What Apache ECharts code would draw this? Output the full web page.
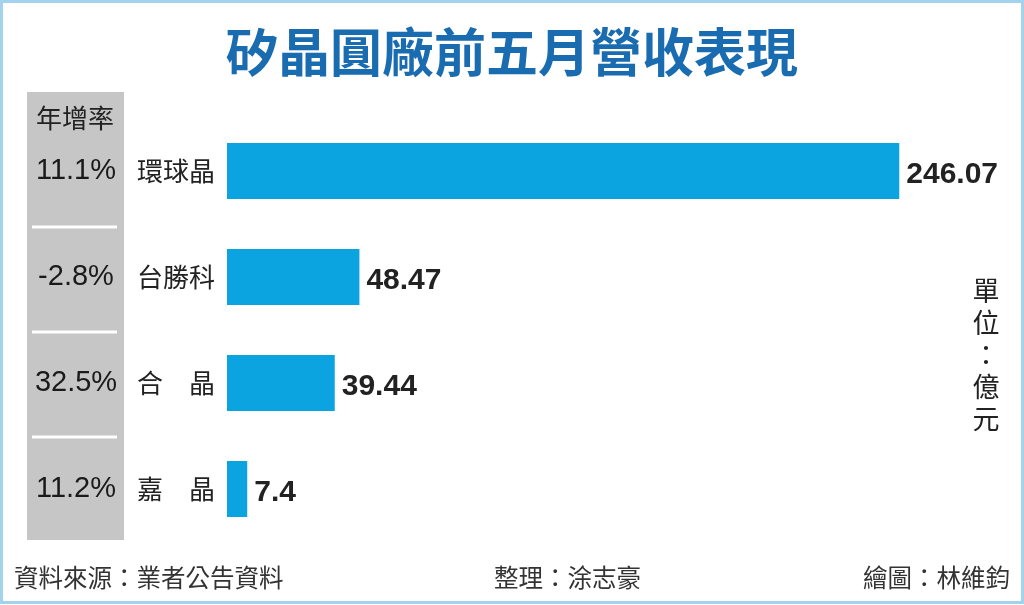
<!DOCTYPE html>
<html>
<head>
<meta charset="utf-8">
<script src="https://cdn.jsdelivr.net/npm/echarts@6/dist/echarts.min.js"></script>
<style>html,body{margin:0;padding:0;background:#fff}#c{width:1024px;height:605px}</style>
</head>
<body>
<div id="c"></div>
<script>
var titleText = '矽晶圓廠前五月營收表現';
var companies = ['環球晶', '台勝科', '合　晶', '嘉　晶'];
var revenue = [246.07, 48.47, 39.44, 7.4];
var growth = ['11.1%', '-2.8%', '32.5%', '11.2%'];
var growthHeader = '年增率';
var unitText = '單位：億元';
var sourceText = '資料來源：業者公告資料';
var editorText = '整理：涂志豪';
var artistText = '繪圖：林維鈞';

var FONT = '"Noto Sans CJK TC", "Noto Sans", sans-serif';
var NUMFONT = '"Liberation Sans", Arial, sans-serif';
var chart = echarts.init(document.getElementById('c'));

var sepLines = [227, 332, 437].map(function (y) {
  return { type: 'line', shape: { x1: 32, y1: y, x2: 117, y2: y }, style: { stroke: '#ffffff', lineWidth: 3 }, z: 1 };
});

chart.setOption({
  backgroundColor: '#ffffff',
  animation: false,
  title: {
    text: titleText, left: 'center', top: 21,
    textStyle: { fontFamily: FONT, fontSize: 52, fontWeight: 'bold', color: '#1a6cb0' }
  },
  grid: { left: 227, right: 114, top: 118, bottom: 63 },
  xAxis: { type: 'value', min: 0, max: 250, show: false },
  yAxis: [
    {
      type: 'category', data: companies, inverse: true,
      axisLine: { show: false }, axisTick: { show: false },
      axisLabel: { fontFamily: FONT, fontSize: 26, color: '#222', margin: 12 }
    },
    {
      type: 'category', data: growth, inverse: true, position: 'left',
      axisLine: { show: false }, axisTick: { show: false },
      axisLabel: { fontFamily: NUMFONT, fontSize: 29, color: '#1a1a1a', margin: 151, align: 'center' },
      z: 5
    }
  ],
  series: [{
    type: 'bar', data: revenue, yAxisIndex: 0, barWidth: 56,
    itemStyle: { color: '#0ba3e0' },
    label: {
      show: true, position: 'right', distance: 7, offset: [0, 4],
      fontFamily: NUMFONT, fontSize: 30, fontWeight: 'bold', color: '#222'
    }
  }],
  graphic: [
    { type: 'rect', shape: { x: 1.5, y: 1.5, width: 1021, height: 601 }, style: { fill: 'none', stroke: '#a3d2ec', lineWidth: 3 }, z: 10, silent: true },
    { type: 'rect', shape: { x: 27, y: 92, width: 97, height: 448 }, style: { fill: '#c6c6c6' }, z: 0 }
  ].concat(sepLines).concat([
    { type: 'text', x: 75, y: 118, style: { text: growthHeader, fontFamily: FONT, fontSize: 26, fill: '#222', align: 'center', verticalAlign: 'middle' }, z: 2 },
    { type: 'text', x: 986, y: 355, style: { text: unitText.split('').join('\n'), fontFamily: FONT, fontSize: 27, lineHeight: 32, fill: '#222', align: 'center', verticalAlign: 'middle' } },
    { type: 'text', x: 14, y: 578, style: { text: sourceText, fontFamily: FONT, fontSize: 24.5, fill: '#333', align: 'left', verticalAlign: 'middle' } },
    { type: 'text', x: 494, y: 578, style: { text: editorText, fontFamily: FONT, fontSize: 24.5, fill: '#333', align: 'left', verticalAlign: 'middle' } },
    { type: 'text', x: 1010, y: 578, style: { text: artistText, fontFamily: FONT, fontSize: 24.5, fill: '#333', align: 'right', verticalAlign: 'middle' } }
  ])
});
</script>
</body>
</html>
